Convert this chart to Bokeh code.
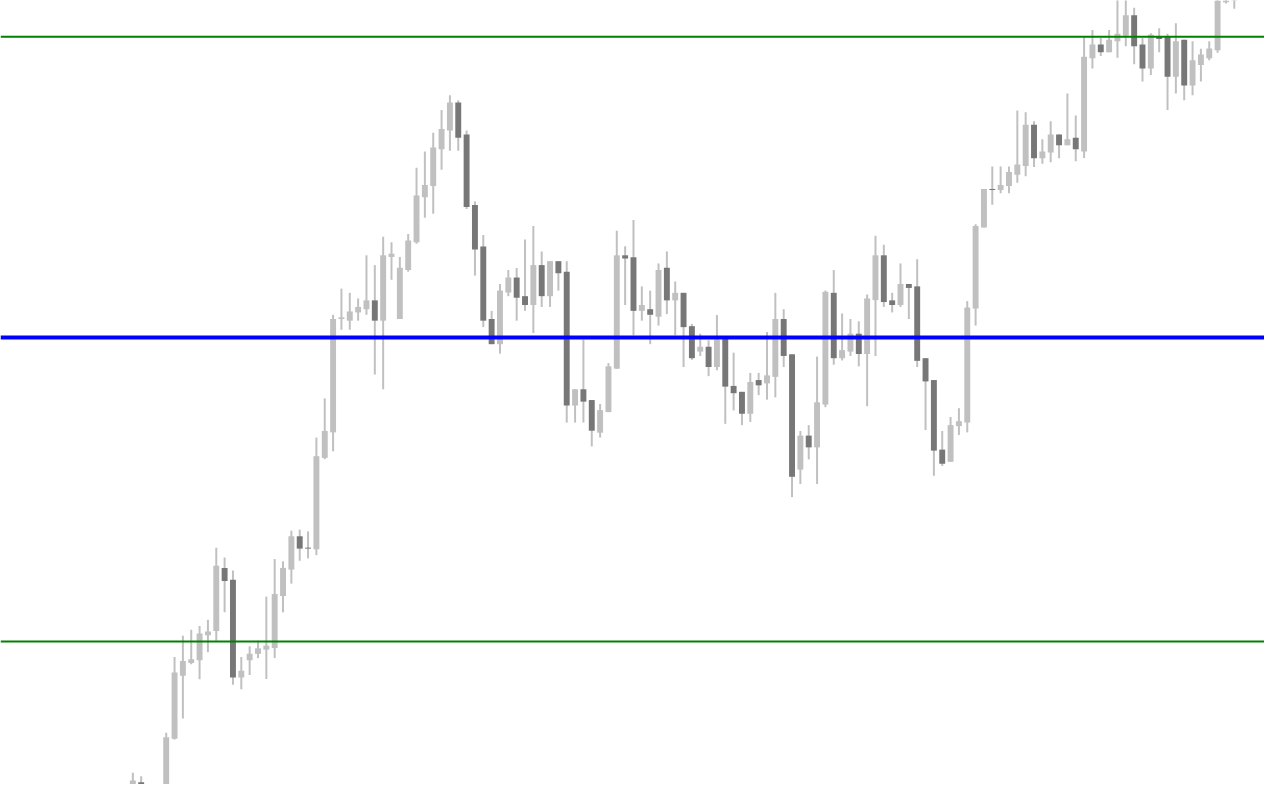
from bokeh.plotting import figure
from bokeh.models import ColumnDataSource, Range1d, Span
from bokeh.embed import file_html
from bokeh.resources import INLINE

# OHLC values of each bar (price units)
opens = [188, 202.3, 197, 188, 184, 246.7, 311, 324, 326.7, 352.3,
         356.7, 421, 409, 309.3, 326.7, 333.3, 337.7, 339.3, 392.3, 419.3,
         453.3, 441.7, 440, 533.3, 559.3, 675, 673.3, 681.7, 685, 694,
         673.3, 738.3, 675, 725, 753.3, 799.3, 810.7, 848.3, 867.3, 896,
         863.3, 791.3, 749, 675, 649.3, 702, 717.3, 698.3, 689.3, 730,
         698.3, 734, 723.3, 586.7, 603.3, 592.3, 559, 580, 624.3, 740,
         738, 683.3, 685, 677.3, 727.3, 694, 701.7, 667.7, 641.7, 646.7,
         626, 655, 606.7, 600.7, 578.3, 612.7, 609.3, 616, 675, 639,
         521.3, 556, 544, 587.7, 701.7, 635, 641.7, 660, 639.3, 694.3,
         740, 694, 689.3, 710.7, 708.3, 635, 612.7, 541.7, 529.3, 565.7,
         569.3, 685.7, 768.3, 807.7, 806.7, 810.7, 822.3, 831, 873.3, 839,
         845, 863.3, 852.3, 860, 846, 941, 955, 947.3, 958.3, 964,
         985, 955, 930.7, 962.7, 962.7, 922.3, 960, 913.3, 934.3, 941,
         949.3, 998.3, 1008]
highs = [212, 208.3, 197, 194, 252.7, 330, 351.7, 358, 361.7, 368,
         441.7, 431.7, 418.3, 330, 341, 346.7, 391.7, 430, 427.7, 459,
         460, 458.3, 554, 594, 679.3, 706, 701.7, 696, 740, 730,
         759, 753.3, 738.3, 761.7, 829.3, 846, 865, 888.3, 903.3, 898.3,
         867.3, 795, 760.7, 683.3, 710.7, 725, 727, 756, 770, 744,
         734, 734, 734, 603.3, 654, 592.3, 588.3, 630, 765, 749.3,
         776, 708.3, 704, 731.7, 744, 713.3, 701.7, 670, 660, 653.3,
         679, 655, 640.7, 600.7, 620, 620, 661.7, 701.7, 685, 639,
         560.7, 566.7, 636.7, 704, 725, 680.7, 675, 672.7, 700, 760,
         750.7, 701.7, 731.7, 710.7, 736, 635, 612.7, 560.7, 575, 584,
         693.3, 771.7, 807.7, 830.7, 830.7, 830.7, 887.7, 886, 876.7, 858.3,
         876.7, 863.3, 905, 882.7, 962.7, 970, 961.7, 970, 1005, 1005,
         992.7, 961.7, 966.7, 971.7, 966, 976.7, 960, 958.3, 950.7, 958.3,
         1015, 1025, 1030]
lows = [185, 194, 182, 178, 180, 246, 267.3, 322.7, 307.3, 335,
        346.7, 375.7, 301.7, 297.3, 311.7, 329, 307.7, 329, 375.7, 405,
        428.3, 430.7, 434, 532, 540, 664, 664, 673.3, 679.3, 618.3,
        603.3, 715, 675, 723.3, 751.7, 778.3, 782.3, 827.3, 846.7, 846.7,
        787.3, 719.3, 666.7, 649.3, 639.7, 698.3, 673.3, 683.3, 660.7, 687.3,
        687.3, 704, 569.3, 569.3, 569.3, 545, 554, 580, 624.3, 689.3,
        658.3, 673.3, 649.3, 668.3, 680, 658.3, 626, 633.3, 637.3, 616.7,
        622.7, 568, 581.7, 566.7, 570, 597.3, 592.7, 595, 626, 493.3,
        506.7, 531.7, 506.7, 585, 628.3, 632.7, 637.3, 626.7, 586, 637.3,
        687.3, 681.7, 687.3, 675, 626, 561.7, 515, 525, 529.3, 556.7,
        559.3, 668.3, 768.3, 791.7, 803.3, 803.3, 814, 820.7, 830, 833.3,
        835, 839, 852.3, 836, 839.3, 930.7, 943.3, 947.3, 941.7, 953.3,
        935, 917.3, 924, 947.3, 888.3, 905, 898.3, 903.3, 917.3, 939,
        946.7, 997, 991.7]
closes = [204, 197, 188, 182, 248.3, 314.3, 326, 327.7, 354, 356,
          423.3, 407.7, 309.3, 316, 333.3, 339, 341.7, 394.3, 421, 453.3,
          440.7, 440.7, 535, 560.7, 675, 676.7, 682.7, 687.3, 694, 673.3,
          740, 741.7, 727.3, 755, 801, 811.7, 850, 869, 896, 860,
          789.3, 746, 673.3, 649.3, 704, 717.3, 696.7, 689.3, 730, 698.3,
          734, 721.7, 586.7, 603.3, 590.7, 561, 582, 626.7, 740, 736.7,
          683.3, 689.3, 679.3, 725, 694, 701.7, 666.7, 635, 646.7, 626,
          654, 606, 599.3, 578.3, 610.7, 607.3, 617.5, 675, 637.3, 514,
          556, 544, 590, 702.7, 635, 643.3, 660, 639.3, 696, 740,
          692.3, 689.3, 710.7, 706.7, 632.3, 611.3, 540.7, 527.3, 566.7, 570.7,
          686.7, 770, 807.7, 806.7, 811.7, 825, 832.7, 873.3, 839, 846,
          863.3, 852.3, 858.3, 848.3, 942.7, 955, 947.3, 960, 966, 985,
          953.3, 930.7, 965, 960.7, 922.3, 958.3, 913.3, 939, 945, 951,
          1010, 1020, 1025]

# horizontal levels
green_levels = [963, 346]
blue_levels = [656]

# layout constants (pixel geometry of the bar axis in the 1280x800 view)
X0_PX, DX_PX = 134.0, 8.45
LEFT_PX, RIGHT_PX = 0.0, 1280.0
PRICE_LO, PRICE_HI = 200, 1000

n = len(opens)
idx = list(range(n))
inc = [i for i in idx if closes[i] >= opens[i]]
dec = [i for i in idx if closes[i] < opens[i]]

def src(sel):
    return ColumnDataSource(dict(
        x=[i for i in sel],
        top=[max(opens[i], closes[i]) for i in sel],
        bottom=[min(opens[i], closes[i]) for i in sel],
        high=[highs[i] for i in sel],
        low=[lows[i] for i in sel],
    ))

all_src = src(idx)
inc_src = src(inc)
dec_src = src(dec)

x_start = (LEFT_PX - X0_PX) / DX_PX
x_end = (RIGHT_PX - X0_PX) / DX_PX

p = figure(width=1264, height=784, output_backend="svg", toolbar_location=None,
           x_range=Range1d(x_start, x_end), y_range=Range1d(PRICE_LO, PRICE_HI),
           x_axis_type=None, y_axis_type=None, min_border=0,
           min_border_left=0, min_border_right=0, min_border_top=0, min_border_bottom=0)
p.grid.visible = False
p.outline_line_color = None
p.background_fill_color = "white"
p.border_fill_color = "white"

LIGHT = "#c0c0c0"
DARK = "#777777"
body_w = 6.0 / DX_PX

p.segment(x0="x", y0="high", x1="x", y1="low", source=all_src,
          line_color=LIGHT, line_width=2)
p.vbar(x="x", top="top", bottom="bottom", width=body_w, source=inc_src,
       fill_color=LIGHT, line_color=None)
p.vbar(x="x", top="top", bottom="bottom", width=body_w, source=dec_src,
       fill_color=DARK, line_color=None)

for lv in green_levels:
    p.add_layout(Span(location=lv, dimension="width", line_color="#008000", line_width=2))
for lv in blue_levels:
    p.add_layout(Span(location=lv, dimension="width", line_color="#0000ff", line_width=4))

open("out.html", "w").write(file_html(p, INLINE))
